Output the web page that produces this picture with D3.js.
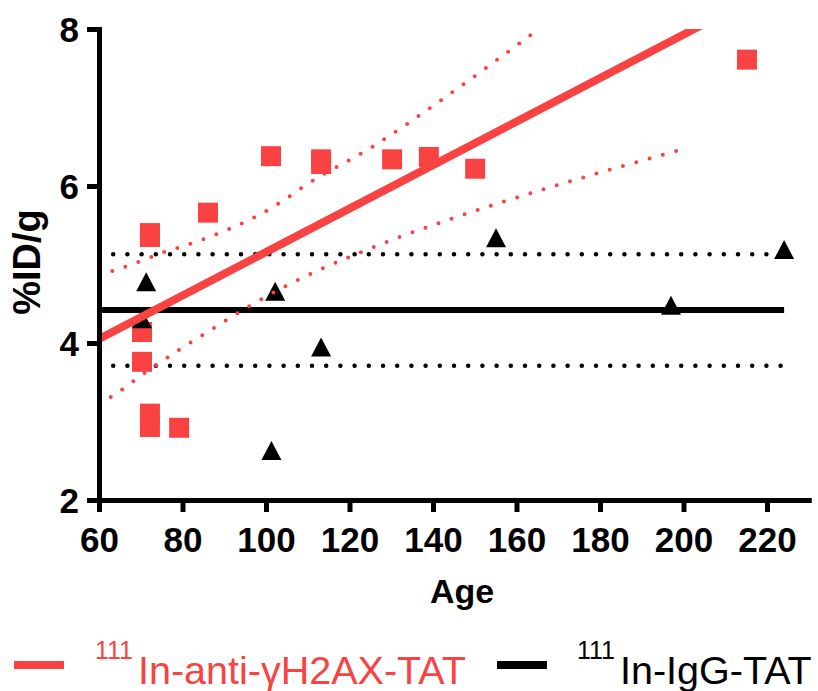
<!DOCTYPE html>
<html lang="en">
<head>
    <meta charset="UTF-8">
    <title>%ID/g vs Age</title>
    <style>
        body {
            margin: 0;
            background: white;
        }
        svg text {
            font-family: "Liberation Sans", Arial, sans-serif;
        }
        .axis path, .axis line {
            stroke: black;
            stroke-width: 5px;
        }
        .axis path {
            stroke-linecap: square;
        }
        .axis text {
            font-size: 35px;
            font-weight: bold;
            fill: black;
        }
    </style>
    <script src="https://d3js.org/d3.v7.min.js"></script>
</head>
<body>
    <div id="chart"></div>

    <script>
        // data
        const redAge = [70.3, 70.3, 72.2, 72.2, 72.2, 72.2, 79.2, 86.1, 101.2, 113.2, 113.2, 130.2, 139.0, 150.1, 215.2];
        const redVal = [4.14, 3.76, 5.40, 5.35, 3.10, 2.93, 2.92, 5.66, 6.38, 6.34, 6.28, 6.34, 6.37, 6.22, 7.61];

        const blackAge = [71.3, 70.3, 102.2, 101.3, 113.2, 155.1, 197.0, 224.1];
        const blackVal = [4.78, 4.31, 4.66, 2.63, 3.95, 5.34, 4.48, 5.19];

        // red linear fit and its 95% band
        const fitAge = [60, 215.2];
        const fitVal = [4.05, 8.35];
        const upperAge = [60, 63.3, 72.7, 75.6, 78.7, 105.7, 108.1, 126.1, 145.3, 164, 166];
        const upperVal = [4.87, 4.92, 5.10, 5.16, 5.21, 5.87, 5.96, 6.52, 7.22, 7.95, 8.03];
        const lowerAge = [60, 62.8, 71, 79.4, 87.8, 96.3, 105.3, 123.3, 144.8, 169.7, 201.3];
        const lowerVal = [3.22, 3.31, 3.62, 3.92, 4.20, 4.48, 4.74, 5.17, 5.59, 6.01, 6.49];

        // black mean line and its band
        const meanAge = [60, 224.1];
        const meanVal = 4.42;
        const meanBand = [5.13, 3.71];

        const xTicks = [60, 80, 100, 120, 140, 160, 180, 200, 220];
        const yTicks = [2, 4, 6, 8];

        const red = '#f94343';
        const width = 818;
        const height = 691;

        const svg = d3.select('#chart')
            .append('svg')
            .attr('width', width)
            .attr('height', height);

        const x = d3.scaleLinear().domain([60, 230]).range([99, 808.75]);
        const y = d3.scaleLinear().domain([2, 8]).range([500, 29]);

        svg.append('defs').append('clipPath')
            .attr('id', 'plot-clip')
            .append('rect')
            .attr('x', 99)
            .attr('y', 29)
            .attr('width', 720)
            .attr('height', 480);

        const line = d3.line()
            .x(d => x(d[0]))
            .y(d => y(d[1]));
        const curve = d3.line()
            .x(d => x(d[0]))
            .y(d => y(d[1]))
            .curve(d3.curveMonotoneX);

        const plot = svg.append('g').attr('clip-path', 'url(#plot-clip)');

        // black mean +/- band (dotted)
        meanBand.forEach(v => {
            plot.append('path')
                .attr('d', line(meanAge.map(a => [a, v])))
                .attr('fill', 'none')
                .attr('stroke', 'black')
                .attr('stroke-width', 4.5)
                .attr('stroke-linecap', 'round')
                .attr('stroke-dasharray', '0 14.2');
        });

        plot.append('path')
            .attr('d', line(meanAge.map(a => [a, meanVal])))
            .attr('fill', 'none')
            .attr('stroke', 'black')
            .attr('stroke-width', 6);

        // red squares
        plot.append('g')
            .selectAll('rect')
            .data(d3.zip(redAge, redVal))
            .join('rect')
            .attr('x', d => x(d[0]) - 10)
            .attr('y', d => y(d[1]) - 10)
            .attr('width', 20)
            .attr('height', 20)
            .attr('fill', red);

        // black triangles
        plot.append('g')
            .selectAll('path')
            .data(d3.zip(blackAge, blackVal))
            .join('path')
            .attr('transform', d => `translate(${x(d[0])},${y(d[1])})`)
            .attr('d', 'M0,-9.5L10,9.5L-10,9.5Z')
            .attr('fill', 'black');

        // red fit
        plot.append('path')
            .attr('d', line(d3.zip(fitAge, fitVal)))
            .attr('fill', 'none')
            .attr('stroke', red)
            .attr('stroke-width', 8);

        [d3.zip(upperAge, upperVal), d3.zip(lowerAge, lowerVal)].forEach(pts => {
            plot.append('path')
                .attr('d', curve(pts))
                .attr('fill', 'none')
                .attr('stroke', red)
                .attr('stroke-width', 4)
                .attr('stroke-linecap', 'round')
                .attr('stroke-dasharray', '0 13.8');
        });

        // axes
        svg.append('g')
            .attr('class', 'axis')
            .attr('transform', 'translate(0,500)')
            .call(d3.axisBottom(x).tickValues(xTicks).tickFormat(d3.format('d'))
                .tickSize(12).tickSizeOuter(0).tickPadding(15));

        svg.append('g')
            .attr('class', 'axis')
            .attr('transform', 'translate(99,0)')
            .call(d3.axisLeft(y).tickValues(yTicks).tickFormat(d3.format('d'))
                .tickSize(12).tickSizeOuter(0).tickPadding(8))
            .selectAll('.tick text')
            .attr('dy', '0.36em');

        svg.append('text')
            .attr('transform', 'translate(40,262) rotate(-90)')
            .attr('text-anchor', 'middle')
            .attr('font-size', 38)
            .attr('font-weight', 'bold')
            .text('%ID/g');

        svg.append('text')
            .attr('x', 462)
            .attr('y', 603)
            .attr('text-anchor', 'middle')
            .attr('font-size', 34)
            .attr('font-weight', 'bold')
            .text('Age');

        // legend
        const legend = [
            {label: 'In-anti-\u03b3H2AX-TAT', color: red, lx: 14, tx: 95},
            {label: 'In-IgG-TAT', color: 'black', lx: 497, tx: 577}
        ];
        legend.forEach(d => {
            svg.append('line')
                .attr('x1', d.lx).attr('x2', d.lx + 50)
                .attr('y1', 665).attr('y2', 665)
                .attr('stroke', d.color)
                .attr('stroke-width', 8);
            const t = svg.append('text')
                .attr('x', d.tx)
                .attr('y', 684)
                .attr('fill', d.color);
            t.append('tspan')
                .attr('font-size', 25)
                .attr('dy', -25)
                .text('111');
            t.append('tspan')
                .attr('font-size', 39.5)
                .attr('dx', 5)
                .attr('dy', 25)
                .text(d.label);
        });
    </script>
</body>
</html>
